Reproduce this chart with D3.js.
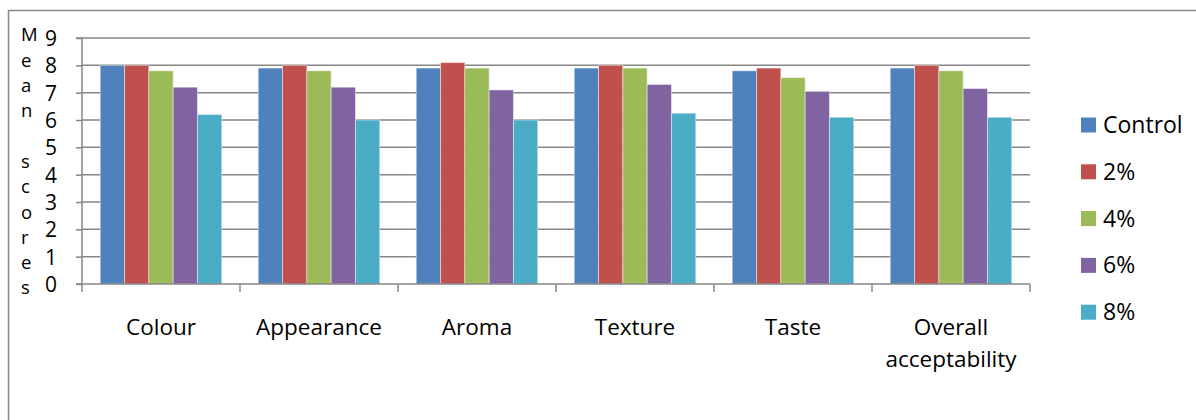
<!DOCTYPE html>
<html>
<head>
<meta charset="utf-8">
<script src="https://cdn.jsdelivr.net/npm/d3@7"></script>
<style>
  body { margin: 0; background: #fff; }
  svg text { font-family: "Open Sans", sans-serif; fill: #000; }
</style>
</head>
<body>
<svg id="chart" width="1196" height="420"></svg>
<script>
var categories = ["Colour", "Appearance", "Aroma", "Texture", "Taste", "Overall acceptability"]
var seriesNames = ["Control", "2%", "4%", "6%", "8%"]
var control = [8.0, 7.9, 7.9, 7.9, 7.8, 7.9]
var pct2 = [8.0, 8.0, 8.1, 8.0, 7.9, 8.0]
var pct4 = [7.8, 7.8, 7.9, 7.9, 7.55, 7.8]
var pct6 = [7.2, 7.2, 7.1, 7.3, 7.05, 7.15]
var pct8 = [6.2, 6.0, 6.0, 6.25, 6.1, 6.1]
var yTicks = [0, 1, 2, 3, 4, 5, 6, 7, 8, 9]
var yTitle = "Mean scores"

var seriesValues = [control, pct2, pct4, pct6, pct8]
var colors = ["#4F81BD", "#C0504D", "#9BBB59", "#8064A2", "#4BACC6"]

var svg = d3.select("#chart")

// outer frame (only top and left visible)
svg.append("path")
  .attr("d", "M8.5,420V10.5H1196")
  .attr("fill", "none")
  .attr("stroke", "#888")
  .attr("stroke-width", 1.5)

var plotLeft = 82, plotRight = 1030, plotTop = 38, plotBottom = 284

var x0 = d3.scaleBand()
  .domain(categories)
  .range([plotLeft, plotRight])
  .paddingInner(0)
  .paddingOuter(0)

var x1 = d3.scaleBand()
  .domain(seriesNames)
  .range([0, x0.bandwidth()])
  .paddingInner(0)
  .paddingOuter(0.75)

var y = d3.scaleLinear()
  .domain([0, 9])
  .range([plotBottom, plotTop])

// grid
svg.append("g")
  .selectAll("line")
  .data(yTicks.slice(1))
  .enter()
  .append("line")
  .attr("x1", plotLeft)
  .attr("x2", plotRight)
  .attr("y1", function(d) { return y(d) })
  .attr("y2", function(d) { return y(d) })
  .attr("stroke", "#868686")
  .attr("stroke-width", 1.5)

// bars
var groups = svg.append("g")
  .selectAll("g")
  .data(categories)
  .enter()
  .append("g")
  .attr("transform", function(d) { return "translate(" + x0(d) + ",0)" })

groups.selectAll("rect")
  .data(function(d, i) {
    return seriesNames.map(function(s, j) { return {s: s, v: seriesValues[j][i], j: j} })
  })
  .enter()
  .append("rect")
  .attr("x", function(d) { return x1(d.s) })
  .attr("width", x1.bandwidth())
  .attr("y", function(d) { return y(d.v) })
  .attr("height", function(d) { return y(0) - y(d.v) })
  .attr("fill", function(d) { return colors[d.j] })
  .attr("stroke", "#fff")
  .attr("stroke-opacity", 0.45)
  .attr("stroke-width", 1)

// y axis
var yAxis = svg.append("g")
  .attr("transform", "translate(" + plotLeft + ",0)")
  .call(d3.axisLeft(y).tickValues(yTicks).tickSize(6).tickPadding(19).tickFormat(d3.format("d")))
yAxis.select(".domain").attr("stroke", "#868686").attr("stroke-width", 1.5).attr("d", "M-6," + plotTop + "H0V" + plotBottom)
yAxis.selectAll(".tick line").attr("stroke", "#868686").attr("stroke-width", 1.5)
yAxis.selectAll(".tick text").style("font-size", "21px").attr("dy", "0.35em")

// x axis
var xAxis = svg.append("g")
  .attr("transform", "translate(0," + plotBottom + ")")
xAxis.append("line")
  .attr("x1", plotLeft - 6).attr("x2", plotRight)
  .attr("stroke", "#868686").attr("stroke-width", 1.5)
xAxis.selectAll(".sep")
  .data(categories.concat(["end"]))
  .enter()
  .append("line")
  .attr("x1", function(d, i) { return plotLeft + i * x0.step() })
  .attr("x2", function(d, i) { return plotLeft + i * x0.step() })
  .attr("y1", 0).attr("y2", 8)
  .attr("stroke", "#868686").attr("stroke-width", 1.5)

xAxis.selectAll(".cat")
  .data(categories)
  .enter()
  .append("text")
  .attr("text-anchor", "middle")
  .style("font-size", "22.5px")
  .attr("x", function(d) { return x0(d) + x0.bandwidth() / 2 })
  .each(function(d) {
    var words = d === "Overall acceptability" ? ["Overall", "acceptability"] : [d]
    var t = d3.select(this)
    words.forEach(function(w, k) {
      t.append("tspan")
        .attr("x", x0(d) + x0.bandwidth() / 2)
        .attr("y", 43 + k * 32)
        .attr("dy", "0.35em")
        .text(w)
    })
  })

// y title, one letter per line
var letters = yTitle.split("")
svg.append("g")
  .selectAll("text")
  .data(letters)
  .enter()
  .append("text")
  .attr("x", 21)
  .attr("y", function(d, i) { return 35 + i * 25.3 })
  .attr("dy", "0.35em")
  .style("font-size", "18.5px")
  .text(function(d) { return d })

// legend
var legend = svg.append("g")
  .selectAll("g")
  .data(seriesNames)
  .enter()
  .append("g")
  .attr("transform", function(d, i) { return "translate(1081," + (125 + i * 46.8) + ")" })

legend.append("rect")
  .attr("x", 0).attr("y", -7.5)
  .attr("width", 15).attr("height", 15)
  .attr("fill", function(d, i) { return colors[i] })

legend.append("text")
  .attr("x", 22)
  .attr("dy", "0.35em")
  .style("font-size", "23px")
  .text(function(d) { return d })
</script>
</body>
</html>
